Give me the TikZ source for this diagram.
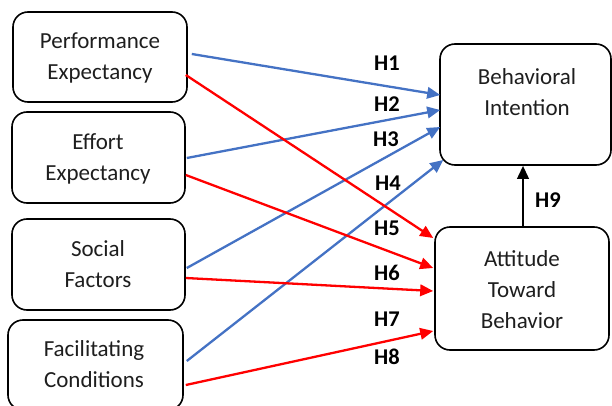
\documentclass[tikz,border=0pt]{standalone}
\usepackage{fontspec}
\setmainfont{Carlito}
\usetikzlibrary{arrows.meta,calc}
\definecolor{myblue}{RGB}{68,114,196}
\definecolor{myred}{RGB}{255,0,0}
\definecolor{txtgray}{RGB}{30,30,30}
\tikzset{
  box/.style={draw=black, line width=1.6pt, rounded corners=15pt, inner sep=0pt},
  lbl/.style={align=center, font=\fontsize{23}{31}\selectfont, text=txtgray, inner sep=0pt},
  hyp/.style={font=\fontsize{22.5}{27}\selectfont\bfseries, inner sep=0pt},
  tip/.style={-{Triangle[length=13pt,width=11.5pt]}},
  bluearr/.style={tip, draw=myblue, fill=myblue, line width=2.3pt},
  redarr/.style={tip, draw=myred, fill=myred, line width=2.3pt},
  blackarr/.style={tip, draw=black, fill=black, line width=2.3pt},
}
\begin{document}
\begin{tikzpicture}[x=1pt,y=-1pt]
\useasboundingbox (0,0) rectangle (612,406);
\clip (0,0) rectangle (612,406);
% boxes
\node[box, minimum width=174pt, minimum height=90pt] (pe) at (100,57) {};
\node[box, minimum width=173pt, minimum height=91pt] (ee) at (98.5,157.5) {};
\node[box, minimum width=173pt, minimum height=91pt] (sf) at (98.5,264.5) {};
\node[box, minimum width=175pt, minimum height=90pt] (fc) at (95.5,365) {};
\node[box, minimum width=171pt, minimum height=121pt] (bi) at (525.5,104.5) {};
\node[box, minimum width=174pt, minimum height=123pt] (atb) at (522,288.5) {};
% texts (base = baseline of last line)
\node[lbl, anchor=base] (peT) at (100,80) {Performance\\Expectancy};
\node[lbl, anchor=base] (eeT) at (98,180) {Effort\\Expectancy};
\node[lbl, anchor=base] (sfT) at (98,287) {Social\\Factors};
\node[lbl, anchor=base] (fcT) at (94,387) {Facilitating\\Conditions};
\node[lbl, anchor=base] (biT) at (527,116) {Behavioral\\Intention};
\node[lbl, anchor=base] (atbT) at (522,328) {Attitude\\Toward\\Behavior};
% blue arrows
\draw[bluearr] ($(pe.east)+(4,-3)$) -- ($(bi.west)+(1,-9.5)$);
\draw[bluearr] ($(ee.east)+(1,0.5)$) -- ($(bi.west)+(1,5.5)$);
\draw[bluearr] ($(sf.east)+(1,3.5)$) -- ($(bi.west)+(1,22.5)$);
\draw[bluearr] ($(fc.east)+(3,-4)$) -- ($(bi.west)+(4,55.5)$);
% red arrows
\draw[redarr] ($(pe.east)+(-2,18)$) -- ($(atb.west)+(-1,-50.5)$);
\draw[redarr] ($(ee.east)+(0,17.5)$) -- ($(atb.west)+(-1,-20.5)$);
\draw[redarr] ($(sf.east)+(0,13.5)$) -- ($(atb.west)+(-1,2.5)$);
\draw[redarr] ($(fc.east)+(2,20)$) -- ($(atb.west)+(-1,42.5)$);
% H9
\coordinate (h9s) at ($(atb.north)+(1,0)$);
\draw[blackarr] (h9s) -- (h9s |- bi.south);
% labels
\node[hyp] (h1) at (387,63) {H1};
\node[hyp] (h2) at (387,104) {H2};
\node[hyp] (h3) at (386,139) {H3};
\node[hyp] (h4) at (388,183) {H4};
\node[hyp] (h5) at (387,228) {H5};
\node[hyp] (h6) at (387,273) {H6};
\node[hyp] (h7) at (387,319) {H7};
\node[hyp] (h8) at (387,357) {H8};
\node[hyp] (h9) at (548,200) {H9};
\end{tikzpicture}
\end{document}
